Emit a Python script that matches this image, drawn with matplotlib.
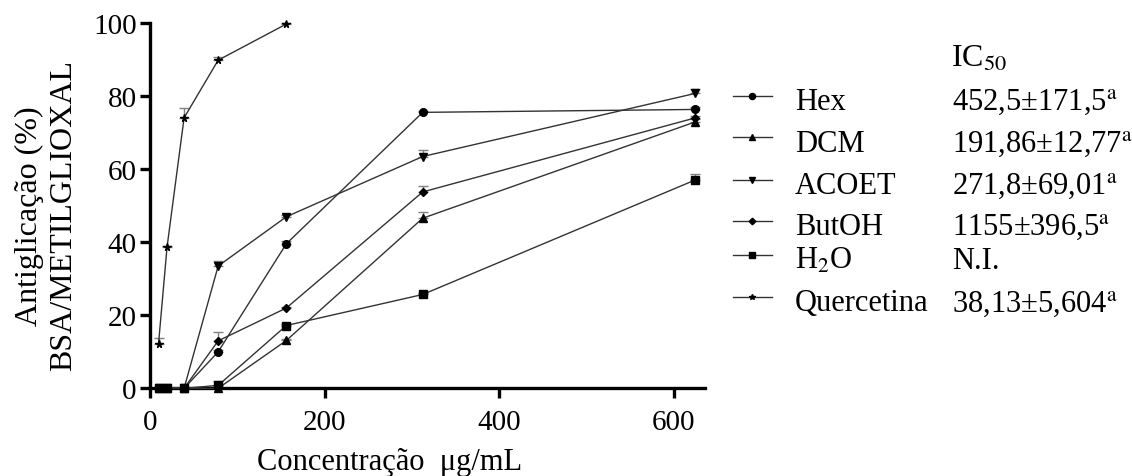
import matplotlib
matplotlib.use("Agg")
import matplotlib.pyplot as plt
from matplotlib.lines import Line2D
import numpy as np

plt.rcParams['font.family'] = ['Liberation Serif', 'DejaVu Serif']
plt.rcParams['mathtext.fontset'] = 'stix'

# concentrações (ug/mL), diluição seriada 1:2
conc = [9.77, 19.53, 39.06, 78.125, 156.25, 312.5, 625]
conc_quer = [9.77, 19.53, 39.06, 78.125, 156.25]

hex_mean = [0, 0, 0, 10.0, 39.6, 75.6, 76.4]
hex_err = [0, 0, 0, 0.6, 0.8, 0.5, 0.6]
dcm_mean = [0, 0, 0, 0, 13.1, 46.6, 73.0]
dcm_err = [0, 0, 0, 0.4, 0.5, 1.7, 0.8]
acoet_mean = [0, 0, 0, 33.5, 47.0, 63.5, 80.8]
acoet_err = [0, 0, 0, 1.5, 0.5, 1.7, 1.1]
butoh_mean = [0, 0, 0, 13.0, 22.0, 53.8, 74.1]
butoh_err = [0, 0, 0, 2.5, 0.4, 1.5, 0.6]
h2o_mean = [0, 0, 0, 0.8, 17.2, 25.7, 57.1]
h2o_err = [0, 0, 0, 1.2, 0.5, 0.5, 1.7]
quer_mean = [12.2, 38.7, 74.1, 89.9, 99.8]
quer_err = [1.5, 0.3, 2.8, 0.9, 0.2]

names = ['Hex', 'DCM', 'ACOET', 'ButOH', 'H$_2$O', 'Quercetina']
ic50 = ['452,5±171,5$^{\\mathrm{a}}$', '191,86±12,77$^{\\mathrm{a}}$',
        '271,8±69,01$^{\\mathrm{a}}$', '1155±396,5$^{\\mathrm{a}}$',
        'N.I.', '38,13±5,604$^{\\mathrm{a}}$']

series = [
    (conc, hex_mean, hex_err, 'o', 5.5),
    (conc, dcm_mean, dcm_err, '^', 5.5),
    (conc, acoet_mean, acoet_err, 'v', 5.5),
    (conc, butoh_mean, butoh_err, 'D', 4.2),
    (conc, h2o_mean, h2o_err, 's', 5.2),
    (conc_quer, quer_mean, quer_err, '*', 5.5),
]

W, H = 1132, 477
fig = plt.figure(figsize=(W / 100, H / 100), dpi=100)
ax = fig.add_axes([150 / W, 1 - 389.3 / H, (705 - 150) / W, (389.3 - 24.3) / H])

for x, y, e, m, ms in series:
    ax.errorbar(x, y, yerr=[np.zeros(len(e)), e], fmt='none', ecolor='#808080',
                elinewidth=1, capsize=3.5, capthick=1, clip_on=False, zorder=2)
    ax.plot(x, y, color='#333333', lw=1, marker=m, ms=ms, mfc='black',
            mec='black', clip_on=False, zorder=3)

ax.set_xlim(0, 636)
ax.set_ylim(0, 100)
ax.set_xticks([0, 200, 400, 600])
ax.set_yticks([0, 20, 40, 60, 80, 100])
for s in ['top', 'right']:
    ax.spines[s].set_visible(False)
for s in ['left', 'bottom']:
    ax.spines[s].set_linewidth(2.4)
ax.tick_params(width=2.4, length=7, labelsize=21)
ax.tick_params(axis='x', pad=8)
ax.tick_params(axis='y', pad=2.5)

ax.set_xlabel('Concentração  μg/mL', fontsize=22, va='top')
ax.xaxis.set_label_coords((390 - 150) / 555, -0.162)
ax.set_ylabel('Antiglicação (%)\nBSA/METILGLIOXAL', fontsize=23, linespacing=1.2)
ax.yaxis.set_label_coords(-0.13, 0.475)

# legenda manual com coluna de IC50
def fx(px):
    return px / W

def fy(py):
    return 1 - py / H

fig.text(fx(951), fy(66.7), 'IC$_{50}$', fontsize=23, va='baseline', ha='left')
base_y = [110, 151.5, 194, 235, 269, 311.5]
for (x, y, e, m, ms), name, ic, by in zip(series, names, ic50, base_y):
    ly = by - 13.5
    fig.add_artist(Line2D([fx(733), fx(772)], [fy(ly), fy(ly)], color='#333333',
                          lw=1, transform=fig.transFigure))
    fig.add_artist(Line2D([fx(752.5)], [fy(ly)], marker=m, ms=ms * 0.8, color='black',
                          transform=fig.transFigure))
    fig.text(fx(795), fy(by), name, fontsize=22, va='baseline', ha='left')
    fig.text(fx(952), fy(by), ic, fontsize=22, va='baseline', ha='left')

fig.savefig('out.png', dpi=100)
